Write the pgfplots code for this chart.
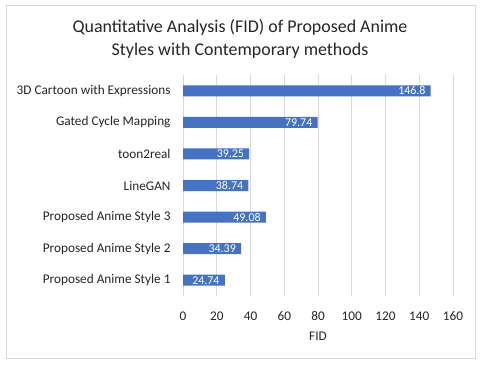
\documentclass[border=0pt]{standalone}
\usepackage{fontspec}
\setmainfont{Carlito}
\usepackage{pgfplots}
\pgfplotsset{compat=1.18}
\definecolor{barblue}{HTML}{4472C4}
\definecolor{gridgray}{HTML}{D9D9D9}
\begin{document}
\begin{tikzpicture}[x=1bp,y=1bp]
\fill[white] (0,0) rectangle (480,365);
\draw[gridgray, line width=0.8bp] (6.5,7) rectangle (475,360);
\node[font=\fontsize{18}{22.5}\selectfont, align=center, text=black!85] at (240,326) {Quantitative Analysis (FID) of Proposed Anime\\Styles with Contemporary methods};
\begin{axis}[
  at={(183bp,69bp)}, anchor=south west,
  scale only axis, width=270bp, height=221bp,
  xmin=0, xmax=160, ymin=-0.5, ymax=6.5,
  xbar, bar width=11bp,
  axis line style={draw=none},
  xtick={0,20,...,160},
  ytick={0,1,2,3,4,5,6},
  yticklabels={Proposed Anime Style 1, Proposed Anime Style 2, Proposed Anime Style 3, LineGAN, toon2real, Gated Cycle Mapping, 3D Cartoon with Expressions},
  major tick length=0pt,
  xmajorgrids, grid style={gridgray, line width=0.8bp},
  /pgf/number format/assume math mode=true,
  ticklabel style={font=\fontsize{13.3}{15}\selectfont, text=black!85},
  xticklabel style={yshift=-12bp},
  yticklabel style={xshift=-9bp},
  xlabel={FID}, xlabel style={font=\fontsize{13.3}{15}\selectfont, text=black!85, yshift=-4bp},
  nodes near coords,
  nodes near coords style={anchor=east, xshift=-5bp, inner sep=0pt, text=white, font=\fontsize{12}{13}\selectfont},
  point meta=explicit symbolic,
]
\addplot[fill=barblue, draw=none] coordinates {
 (24.74,0) [24.74]
 (34.39,1) [34.39]
 (49.08,2) [49.08]
 (38.74,3) [38.74]
 (39.25,4) [39.25]
 (79.74,5) [79.74]
 (146.8,6) [146.8]
};
\end{axis}
\end{tikzpicture}
\end{document}
